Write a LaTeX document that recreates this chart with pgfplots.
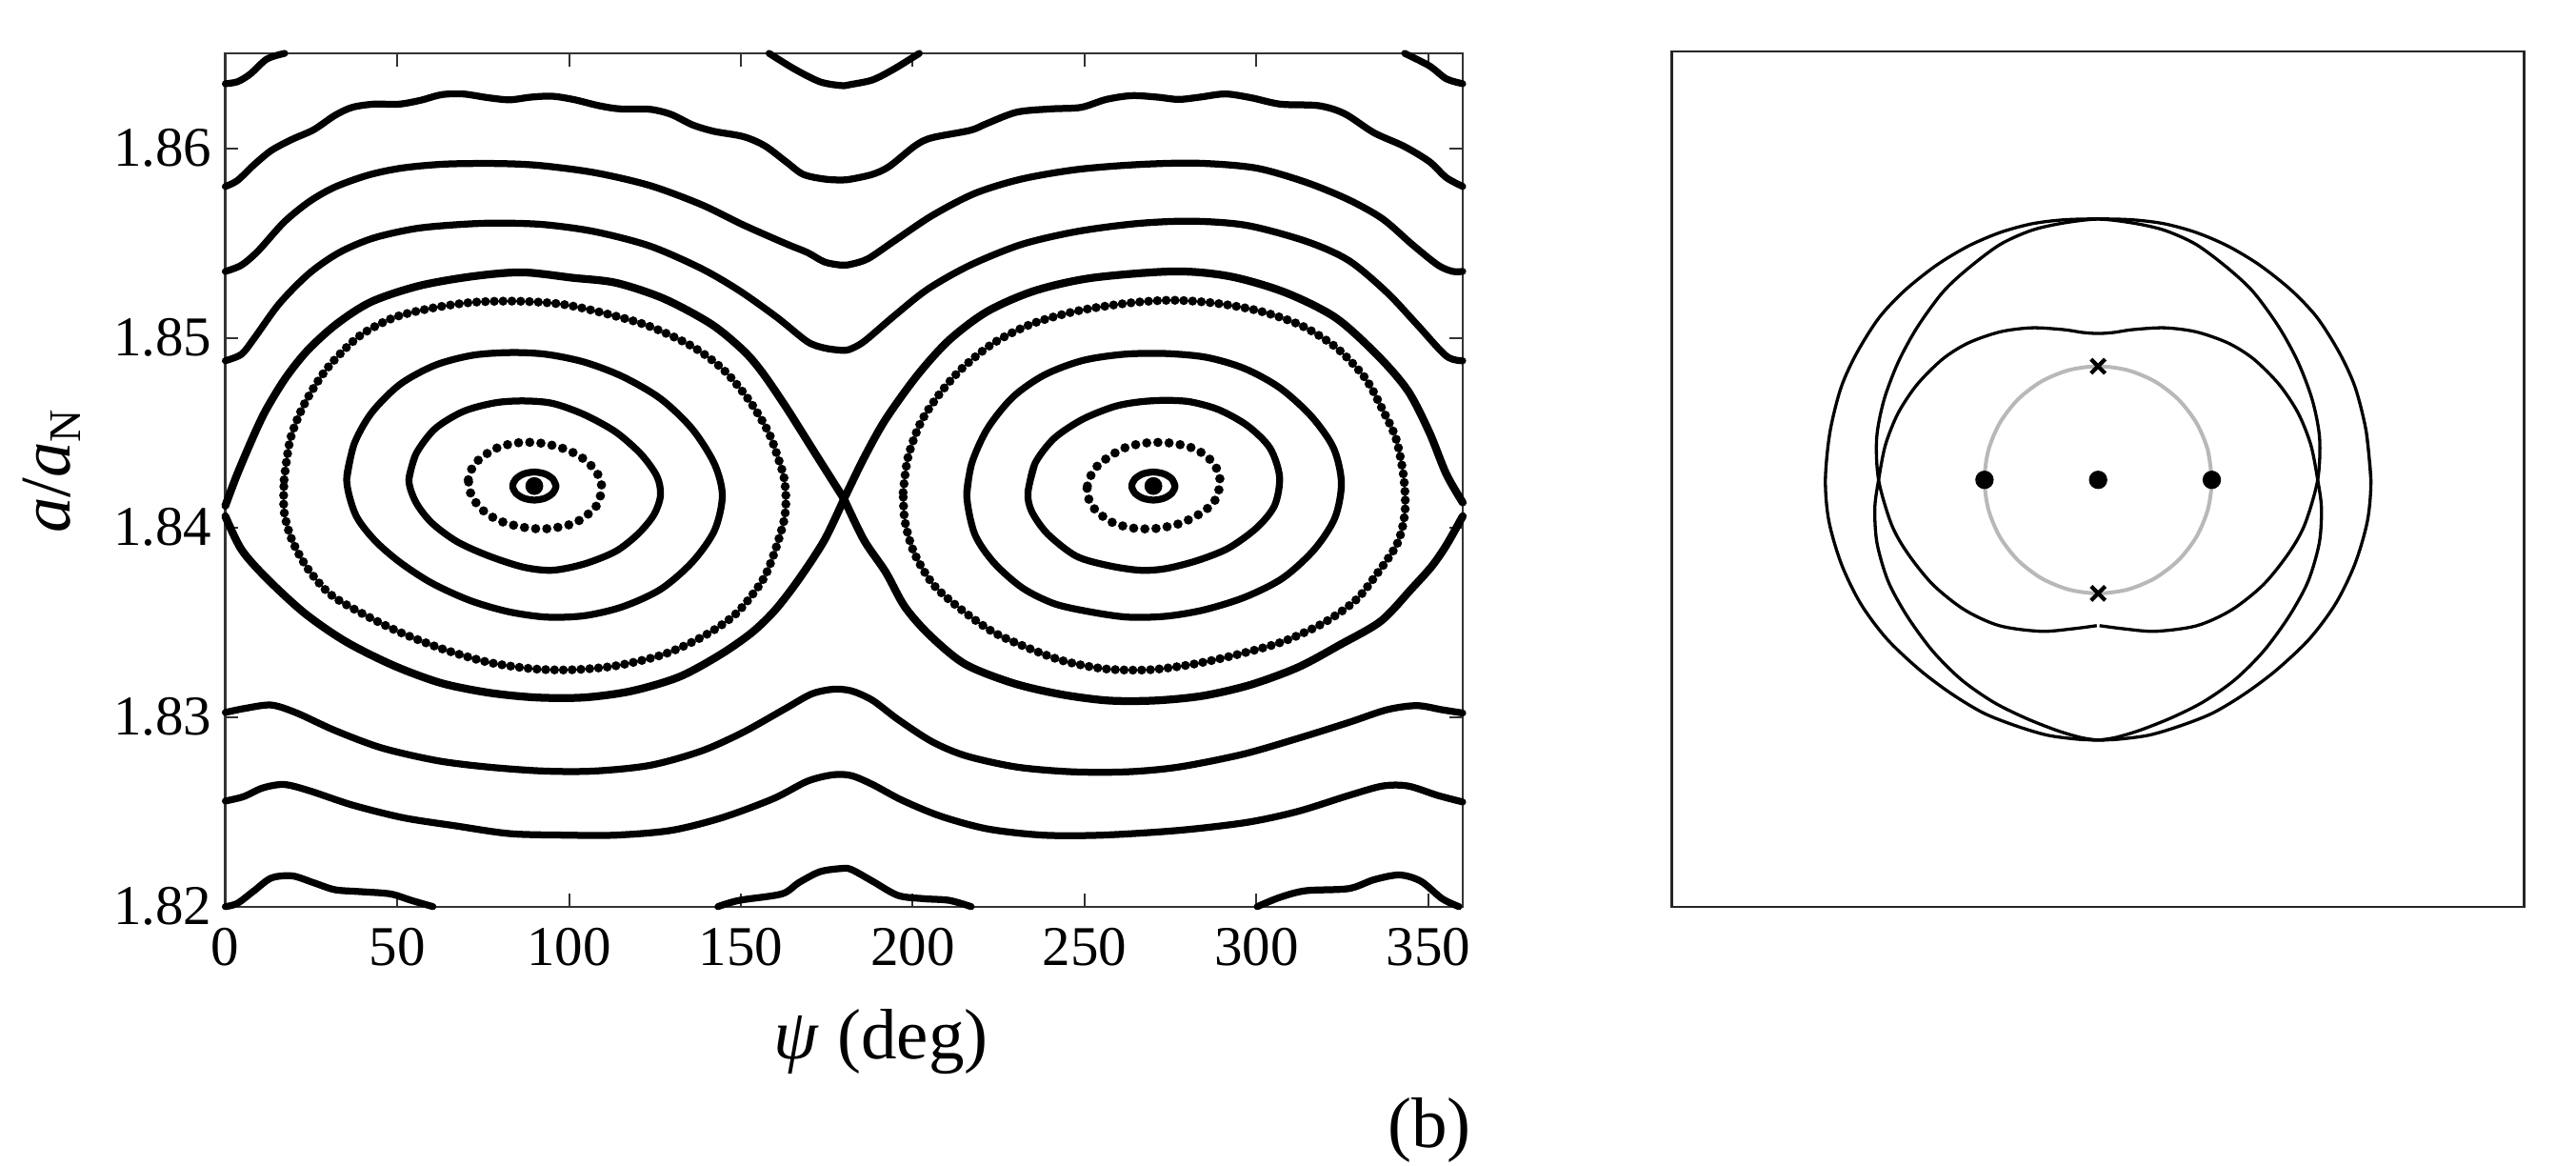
\documentclass[border=0pt]{standalone}
\usepackage{fontspec}
\setmainfont{Liberation Serif}
\usepackage{pgfplots}
\pgfplotsset{compat=1.18}
\pgfplotsset{
  curve/.style={black,line width=1.45pt,smooth,mark=none,line cap=round,line join=round},
  sep/.style={curve,line width=1.65pt},
  dots/.style={black,line width=1.9pt,smooth,mark=none,line cap=round,dash pattern=on 0pt off 1.85pt},
  bigdots/.style={black,line width=1.95pt,smooth,mark=none,line cap=round,dash pattern=on 0pt off 2.35pt},
  orbit/.style={black,line width=0.66pt,smooth,mark=none},
}
\begin{document}
\begin{tikzpicture}
\begin{axis}[
  at={(47.32pt,54.26pt)},anchor=south west,scale only axis,
  width=259.88pt,height=179.14pt,
  xmin=0,xmax=360,ymin=1.82,ymax=1.865,
  xtick={0,50,...,350},ytick={1.82,1.83,1.84,1.85,1.86},
  tick align=inside,major tick length=2.7pt,
  axis line style={line width=0.45pt,black!80},
  tick style={line width=0.4pt,black!80},
  clip=false,
  /pgf/number format/assume math mode=true,
  yticklabel style={xshift=0.7pt,/pgf/number format/fixed,/pgf/number format/fixed zerofill,/pgf/number format/precision=2},
  xticklabel style={yshift=-1pt},
  tick label style={font=\fontsize{11.8}{11.8}\selectfont},
  xlabel={\textit{ψ} (deg)},
  ylabel={\textit{a}/\textit{a}{\fontsize{9.5}{9.5}\selectfont\raisebox{-2.2pt}{N}}},
  label style={font=\fontsize{15}{15}\selectfont},
  xlabel style={at={(rel axis cs:0.53,-0.158)},anchor=center},
  ylabel style={at={(rel axis cs:-0.14,0.51)},anchor=center},
]
% top pieces
\addplot[curve] coordinates {(0,1.8634)(3.5,1.8635)(7.2,1.8639)(12.1,1.8647)(17.3,1.8650)};
\addplot[curve] coordinates {(158.2,1.8650)(165.6,1.86417)(173,1.8635)(179.2,1.8633)(182,1.86336)(188.3,1.8636)(194.5,1.86417)(201.9,1.8650)};
\addplot[curve] coordinates {(343.1,1.8650)(350.3,1.86434)(355.2,1.86366)(360,1.8634)};
% wavy curve near 1.86
\addplot[curve] coordinates {(0,1.85798)(3.5,1.85829)(8.4,1.85913)(13.4,1.85988)(19.5,1.86047)(25.7,1.86097)(31.9,1.86173)(36.9,1.86215)(43.1,1.86232)(50.5,1.86232)(56.7,1.86252)(62.9,1.86282)(69.1,1.86286)(76.5,1.86266)(82.7,1.86255)(88.9,1.86269)(95,1.86274)(101.2,1.86257)(108.7,1.86224)(114.8,1.86207)(123.5,1.86205)(129.7,1.86178)(135.9,1.86123)(142.1,1.86089)(150.7,1.86061)(156.9,1.86013)(163.1,1.85929)(168.1,1.85862)(174.3,1.85837)(179.2,1.85832)(182.1,1.85837)(188.3,1.85862)(193.2,1.85904)(200.7,1.86013)(205.6,1.86055)(216.7,1.86094)(221.7,1.86131)(230.3,1.8619)(240.2,1.86207)(248.9,1.86215)(256.3,1.86257)(263.7,1.86277)(271.2,1.86269)(277.3,1.86257)(283.5,1.86269)(290.9,1.86286)(298.4,1.86266)(307,1.86232)(318.1,1.86224)(325.6,1.86182)(334.2,1.86081)(342.9,1.8601)(350.3,1.85929)(355.2,1.85845)(360,1.85798)};
% circulating curves above the separatrix
\addplot[curve] coordinates {(0,1.8535)(4.7,1.85383)(9.6,1.85459)(17.1,1.8561)(24.5,1.85719)(31.9,1.85795)(41.8,1.85859)(51.7,1.85896)(64.1,1.85916)(78.9,1.85919)(91.3,1.85909)(107.4,1.85871)(123.5,1.85803)(138.4,1.85703)(150.7,1.85595)(163.1,1.85496)(169.3,1.8545)(174.3,1.854)(179.2,1.85383)(182.1,1.85388)(187,1.85417)(194.5,1.85509)(205.6,1.85644)(218,1.85761)(231.6,1.85837)(247.6,1.85887)(265,1.85913)(282.3,1.85921)(299.6,1.85896)(314.4,1.8582)(326.8,1.85728)(336.7,1.85627)(345.3,1.85492)(352.8,1.85383)(357.1,1.8535)(360,1.8535)};
\addplot[curve] coordinates {(0,1.84879)(4.7,1.84913)(8.4,1.84997)(15.8,1.85182)(24.5,1.85341)(33.2,1.8545)(43.1,1.85526)(55.4,1.85576)(67.8,1.85597)(78.9,1.85605)(92.6,1.85597)(107.4,1.8556)(123.5,1.85484)(138.4,1.85366)(149.5,1.85249)(160.6,1.85106)(169.3,1.8498)(174.3,1.84946)(179.2,1.84934)(181.5,1.84938)(185.8,1.8498)(194.5,1.85114)(204.4,1.85257)(216.7,1.85383)(231.6,1.85492)(247.6,1.8556)(265,1.85602)(281,1.85615)(297.1,1.85593)(314.4,1.85509)(326.8,1.85408)(337.9,1.8524)(346.6,1.85072)(355.2,1.84904)(360,1.84879)};
% separatrix
\addplot[sep] coordinates {(0,1.84114)(3.5,1.84282)(8.4,1.8449)(12,1.84625)(17.6,1.8479)(24,1.84935)(32.4,1.85073)(42.5,1.8519)(56.4,1.85274)(72,1.85324)(86.4,1.85345)(101.2,1.85316)(113.6,1.8529)(127.5,1.85207)(141.3,1.85073)(150.6,1.84935)(156.1,1.8482)(163.1,1.84635)(171.8,1.84385)(180,1.8415)};
\addplot[sep] coordinates {(180,1.8415)(185.8,1.84366)(192.1,1.8457)(201.4,1.84804)(210.6,1.84988)(221.7,1.85139)(235.5,1.85248)(252.2,1.85316)(276.1,1.8535)(292.2,1.85324)(308.2,1.8524)(323,1.85106)(335.4,1.84904)(344.1,1.84719)(350.3,1.84501)(355.2,1.84282)(360,1.84131)};
\addplot[sep] coordinates {(0,1.84059)(4.7,1.83883)(12,1.83732)(23.1,1.83547)(35.1,1.83397)(49,1.83271)(62.8,1.83179)(76.7,1.83128)(90.5,1.83103)(104.4,1.83103)(118.2,1.83137)(132.1,1.83212)(144.1,1.8333)(153.3,1.83447)(160,1.83565)(166.8,1.83725)(174.3,1.83933)(180,1.8415)};
\addplot[sep] coordinates {(180,1.8415)(185.8,1.83933)(192.1,1.83765)(197.7,1.83581)(205,1.8343)(215.2,1.83279)(229.1,1.83179)(242.9,1.8312)(256.8,1.83087)(270.6,1.83087)(284.5,1.83112)(298.3,1.8317)(312.2,1.83263)(324.2,1.8338)(336.2,1.83506)(345.3,1.8368)(351,1.83795)(355.2,1.83905)(360,1.84059)};
% outer dotted loops
\addplot[dots] coordinates {(17.1,1.84251)(18.96,1.84469)(23.1,1.84654)(29.6,1.84838)(38.8,1.85006)(49,1.85106)(60,1.85156)(72,1.85187)(85,1.85193)(97.9,1.85177)(109.9,1.85131)(122.9,1.85064)(135.8,1.84955)(145,1.8483)(152.4,1.8467)(158,1.84503)(160.8,1.84367)(162.5,1.84266)(163.1,1.84151)(162.5,1.84033)(159.4,1.83849)(156.1,1.83715)(148.7,1.83547)(139.5,1.8343)(127.5,1.8333)(113.6,1.8327)(100.7,1.83249)(89.6,1.83254)(76.7,1.83288)(63.8,1.83355)(50.8,1.83447)(39.7,1.83547)(30.5,1.83648)(24,1.83782)(19.4,1.83933)(17.1,1.84084)(17.1,1.84251)};
\addplot[dots] coordinates {(197.2,1.84184)(198.6,1.84369)(202.3,1.84553)(207.8,1.84704)(214.3,1.84838)(223.5,1.84972)(234.6,1.85073)(247.5,1.8514)(262.3,1.85182)(275.3,1.85198)(288.2,1.85182)(301.1,1.8514)(313.1,1.85064)(323.3,1.84947)(331.6,1.84788)(336.7,1.8462)(340.6,1.84467)(342.8,1.84268)(343.2,1.84084)(341,1.83916)(334.8,1.83749)(328.8,1.83615)(319.6,1.83497)(307.6,1.83397)(294.6,1.8333)(281.7,1.83279)(268.8,1.83249)(255.9,1.83254)(243.8,1.83296)(233.7,1.83363)(223.5,1.83447)(214.3,1.83564)(206,1.83698)(200.4,1.83866)(197.7,1.84034)(197.2,1.84184)};
% solid loops
\addplot[curve] coordinates {(35.3,1.84251)(37.4,1.84436)(42.5,1.84603)(50.8,1.84754)(61,1.84855)(72,1.84908)(83.1,1.84922)(93.3,1.84913)(104.4,1.84872)(115.5,1.84796)(126.6,1.84679)(135.8,1.8452)(142.3,1.84335)(144.6,1.84168)(142.3,1.83983)(135.8,1.83816)(126.6,1.83673)(115.5,1.83581)(104.4,1.83534)(93.3,1.83527)(82.2,1.83556)(71.1,1.83615)(60,1.83707)(50.8,1.83816)(43.4,1.83933)(37.9,1.84067)(35.3,1.84251)(37.4,1.84436)};
\addplot[curve] coordinates {(215.7,1.84168)(217.1,1.84335)(221.7,1.8452)(229.1,1.84687)(238.3,1.84804)(249.4,1.8488)(261.4,1.84913)(273.4,1.84917)(285.4,1.84897)(296.5,1.84838)(306.7,1.84737)(315.9,1.84587)(322.4,1.84419)(324.7,1.84235)(322.8,1.8405)(316.8,1.83883)(307.6,1.83732)(296.5,1.83631)(284.5,1.83564)(273.4,1.83531)(262.3,1.83527)(251.2,1.83556)(241.1,1.83598)(231.8,1.83682)(223.5,1.83816)(218,1.83966)(215.7,1.84168)(217.1,1.84335)};
\addplot[curve] coordinates {(53.4,1.84251)(55.4,1.84385)(61,1.8452)(69.3,1.84612)(78.5,1.84657)(86.8,1.84667)(95.2,1.84654)(104.4,1.84595)(113.6,1.84503)(121,1.84385)(125.6,1.84268)(126.6,1.84168)(124.7,1.84067)(120.1,1.83966)(113.6,1.83874)(104.4,1.83807)(95.2,1.83774)(86.8,1.8379)(76.7,1.83849)(67.4,1.83925)(60,1.84025)(55.4,1.84134)(53.4,1.84251)(55.4,1.84385)};
\addplot[curve] coordinates {(233.5,1.84184)(235.5,1.84335)(241.1,1.84469)(249.4,1.8457)(258.6,1.84637)(266,1.84662)(273.4,1.8467)(280.8,1.84662)(289.1,1.8462)(297.4,1.84536)(303.9,1.84419)(306.7,1.84268)(305.3,1.84117)(300.2,1.84)(291.9,1.83891)(282.6,1.83824)(273.4,1.83782)(266,1.83774)(256.8,1.83799)(247.5,1.83849)(239.2,1.83966)(234.6,1.84084)(233.5,1.84184)(235.5,1.84335)};
% inner dotted loops
\addplot[bigdots] coordinates {(70.7,1.84251)(72.5,1.84335)(78.1,1.84411)(84.1,1.84444)(90.5,1.84447)(97,1.84424)(103,1.84377)(107.6,1.84302)(109.5,1.84218)(108.1,1.84117)(103.5,1.84042)(98.9,1.84008)(92.4,1.83992)(85.9,1.84003)(79.5,1.84037)(74.8,1.84092)(71.6,1.84168)(70.7,1.84251)};
\addplot[bigdots] coordinates {(250.8,1.84218)(252.6,1.84302)(256.8,1.84369)(262.3,1.84424)(268.8,1.84447)(275.3,1.84444)(281.3,1.84419)(285.9,1.84369)(289.1,1.84285)(289.1,1.84201)(287.3,1.84126)(283.1,1.84067)(277.6,1.8402)(271.1,1.83995)(264.6,1.83995)(258.2,1.84025)(253.1,1.84092)(250.8,1.84168)(250.8,1.84218)};
% small rings and centres
\addplot[curve] coordinates {(96.2,1.84218)(95.3,1.84255)(93,1.84282)(89.9,1.84292)(86.8,1.84282)(84.5,1.84255)(83.6,1.84218)(84.5,1.84181)(86.8,1.84154)(89.9,1.84144)(93,1.84154)(95.3,1.84181)(96.2,1.84218)(95.3,1.84255)};
\addplot[curve] coordinates {(276.3,1.84218)(275.4,1.84255)(273.1,1.84282)(270,1.84292)(266.9,1.84282)(264.6,1.84255)(263.7,1.84218)(264.6,1.84181)(266.9,1.84154)(270,1.84144)(273.1,1.84154)(275.4,1.84181)(276.3,1.84218)(275.4,1.84255)};
\addplot[only marks,mark=*,mark size=1.67pt,black] coordinates {(89.9,1.84218)(270,1.84218)};
% lower circulating curves
\addplot[curve] coordinates {(0,1.83024)(5.9,1.83046)(13.4,1.83063)(20.8,1.83021)(31.9,1.82929)(45.5,1.82837)(61.6,1.8277)(76.5,1.82736)(92.6,1.82715)(107.4,1.82715)(123.5,1.82745)(138.4,1.8282)(150.7,1.8292)(163.1,1.83046)(170.5,1.83121)(176.7,1.83146)(182.1,1.83138)(188.3,1.83088)(195.7,1.82987)(205.6,1.8287)(215.5,1.82795)(230.3,1.82736)(246.4,1.82711)(262.5,1.82711)(277.3,1.82736)(295.9,1.82803)(312,1.82887)(326.8,1.82971)(337.9,1.83038)(346.6,1.8306)(354,1.83038)(360,1.83021)};
\addplot[curve] coordinates {(0,1.82557)(5.3,1.8258)(10.9,1.82626)(17.1,1.82644)(24.5,1.82611)(36.9,1.82536)(51.7,1.82469)(66.6,1.82427)(82.7,1.82385)(98.8,1.82377)(113.6,1.82377)(129.7,1.82402)(144.5,1.82469)(159.4,1.82569)(169.3,1.82661)(176.7,1.82695)(182.1,1.82691)(188.3,1.82644)(196.9,1.82561)(208.1,1.82477)(221.7,1.8241)(237.8,1.82377)(255.1,1.82377)(277.3,1.82402)(297.1,1.82444)(312,1.82502)(326.8,1.82586)(336.7,1.82636)(344.1,1.82636)(352.8,1.82586)(360,1.82552)};
% bottom pieces
\addplot[curve] coordinates {(0,1.82)(3.5,1.82017)(8.4,1.82084)(13.4,1.82151)(19.5,1.82162)(25.7,1.82126)(31.9,1.82089)(39.3,1.82079)(48,1.82067)(54.1,1.82033)(60.4,1.82)};
\addplot[curve] coordinates {(143.3,1.82)(149.5,1.82033)(161.9,1.82067)(166.8,1.82126)(173,1.82184)(179.2,1.82201)(182.1,1.82196)(188.3,1.82134)(195.7,1.82059)(203.1,1.82042)(210.6,1.82033)(217,1.82)};
\addplot[curve] coordinates {(300.2,1.82)(307,1.8205)(314.4,1.82084)(326.8,1.82095)(334.2,1.82142)(341.6,1.82167)(347.8,1.82134)(354,1.82042)(358.9,1.82)};
\node[font=\fontsize{15}{15}\selectfont] at (rel axis cs:0.973,-0.262) {(b)};
\end{axis}
\begin{axis}[
  at={(351.14pt,54.2pt)},anchor=south west,scale only axis,
  width=179pt,height=179.6pt,
  xmin=-3.75,xmax=3.75,ymin=-3.761,ymax=3.773,
  xtick=\empty,ytick=\empty,
  axis line style={line width=0.5pt,black!85},
]
% reference circle
\addplot[color=black!28,line width=0.8pt,smooth,mark=none] coordinates {(1,0)(.966,.259)(.866,.5)(.707,.707)(.5,.866)(.259,.966)(0,1)(-.259,.966)(-.5,.866)(-.707,.707)(-.866,.5)(-.966,.259)(-1,0)(-.966,-.259)(-.866,-.5)(-.707,-.707)(-.5,-.866)(-.259,-.966)(0,-1)(.259,-.966)(.5,-.866)(.707,-.707)(.866,-.5)(.966,-.259)(1,0)(.966,.259)};
% outer curve
\addplot[orbit] coordinates {(2.40,0)(2.36,.42)(2.262,.814)(2.122,1.121)(1.927,1.429)(1.703,1.667)(1.423,1.89)(1.144,2.058)(.864,2.178)(.584,2.255)(.305,2.29)(0,2.298)(-.305,2.29)(-.584,2.255)(-.864,2.178)(-1.144,2.058)(-1.423,1.89)(-1.703,1.667)(-1.927,1.429)(-2.122,1.121)(-2.262,.814)(-2.36,.42)(-2.40,0)(-2.37,-.36)(-2.26,-.74)(-2.09,-1.09)(-1.86,-1.40)(-1.569,-1.675)(-1.289,-1.885)(-1.01,-2.053)(-.73,-2.164)(-.45,-2.248)(-.171,-2.285)(0,-2.29)(.171,-2.285)(.45,-2.248)(.73,-2.164)(1.01,-2.053)(1.289,-1.885)(1.569,-1.675)(1.86,-1.40)(2.09,-1.09)(2.26,-.74)(2.37,-.36)(2.40,0)(2.36,.42)};
% bottom - peanut top - bottom
\addplot[orbit] coordinates {(.06,-2.29)(0,-2.292)(-.15,-2.27)(-.366,-2.206)(-.646,-2.095)(-.926,-1.955)(-1.205,-1.759)(-1.457,-1.507)(-1.681,-1.2)(-1.848,-.893)(-1.946,-.556)(-1.965,-.249)(-1.932,0)(-1.871,.31)(-1.759,.59)(-1.591,.842)(-1.367,1.065)(-1.144,1.205)(-.864,1.303)(-.584,1.339)(-.305,1.323)(-.137,1.298)(0,1.289)(.137,1.298)(.305,1.323)(.584,1.339)(.864,1.303)(1.144,1.205)(1.367,1.065)(1.591,.842)(1.759,.59)(1.871,.31)(1.932,0)(1.965,-.249)(1.946,-.556)(1.848,-.893)(1.681,-1.2)(1.457,-1.507)(1.205,-1.759)(.926,-1.955)(.646,-2.095)(.366,-2.206)(.15,-2.27)(0,-2.292)(-.06,-2.29)};
% top - peanut bottom - top, open at the gap
\addplot[orbit] coordinates {(.012,-1.284)(.227,-1.312)(.506,-1.334)(.87,-1.284)(1.177,-1.144)(1.457,-.92)(1.681,-.64)(1.82,-.389)(1.932,0)(1.949,.366)(1.885,.702)(1.759,1.037)(1.591,1.345)(1.367,1.653)(1.144,1.862)(.864,2.072)(.584,2.198)(.305,2.262)(0,2.296)(-.305,2.262)(-.584,2.198)(-.864,2.072)(-1.144,1.862)(-1.367,1.653)(-1.591,1.345)(-1.759,1.037)(-1.885,.702)(-1.949,.366)(-1.932,0)(-1.82,-.389)(-1.681,-.64)(-1.457,-.92)(-1.177,-1.144)(-.87,-1.284)(-.506,-1.334)(-.227,-1.312)(-.012,-1.284)};
\addplot[only marks,mark=*,mark size=1.73pt,black] coordinates {(0,0)(-1,0)(1,0)};
\addplot[only marks,mark=x,mark size=2.1pt,black,mark options={line width=0.85pt}] coordinates {(0,1)(0,-1)};
\end{axis}
\pgfresetboundingbox
\path[use as bounding box] (0,0) rectangle (541pt,244.6pt);
\end{tikzpicture}
\end{document}
